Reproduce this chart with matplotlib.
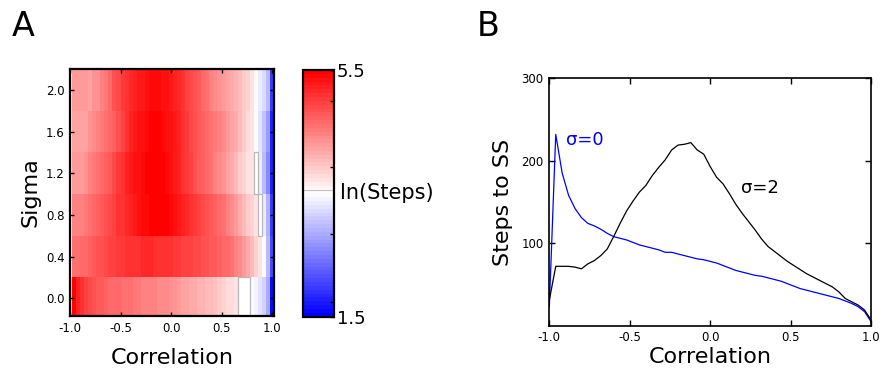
import numpy as np
import matplotlib
matplotlib.use("Agg")
import matplotlib.pyplot as plt
from matplotlib.patches import Rectangle

plt.rcParams['font.family'] = ['DejaVu Sans']

# ---------------- data ----------------
correlation = [-1.00, -0.96, -0.92, -0.88, -0.84, -0.80, -0.76, -0.72, -0.68, -0.64,
               -0.60, -0.56, -0.52, -0.48, -0.44, -0.40, -0.36, -0.32, -0.28, -0.24,
               -0.20, -0.16, -0.12, -0.08, -0.04, 0.00, 0.04, 0.08, 0.12, 0.16,
               0.20, 0.24, 0.28, 0.32, 0.36, 0.40, 0.44, 0.48, 0.52, 0.56,
               0.60, 0.64, 0.68, 0.72, 0.76, 0.80, 0.84, 0.88, 0.92, 0.96, 1.00]
sigma = [0.0, 0.4, 0.8, 1.2, 1.6, 2.0]

steps_sigma0 = [23, 232, 185, 158, 142, 131, 124, 121, 117, 112,
                108, 106, 104, 101, 98, 96, 94, 92, 89, 89,
                87, 85, 83, 81, 80, 78, 76, 73, 70, 67,
                65, 63, 61, 60, 58, 56, 54, 51, 48, 45,
                43, 41, 39, 37, 35, 33, 30, 27, 23, 17, 5]
steps_sigma04 = [33, 100, 102, 105, 108, 112, 118, 124, 130, 136,
                 142, 148, 152, 156, 160, 163, 166, 168, 170, 170,
                 170, 168, 166, 164, 162, 158, 155, 152, 148, 145,
                 141, 137, 133, 129, 125, 121, 117, 113, 108, 103,
                 97, 90, 82, 74, 65, 56, 47, 41, 32, 20, 8]
steps_sigma08 = [30, 85, 85, 88, 92, 98, 105, 112, 120, 128,
                 138, 148, 158, 168, 178, 190, 200, 210, 220, 228,
                 235, 240, 240, 238, 232, 225, 215, 200, 188, 176,
                 165, 155, 146, 137, 128, 120, 112, 104, 96, 88,
                 80, 72, 64, 57, 51, 46, 42, 37, 29, 18, 7]
steps_sigma12 = [28, 72, 72, 74, 78, 85, 92, 98, 105, 112,
                 122, 135, 150, 165, 180, 192, 205, 215, 225, 232,
                 238, 240, 238, 232, 222, 210, 196, 182, 168, 155,
                 142, 130, 120, 111, 103, 96, 89, 82, 76, 70,
                 63, 57, 51, 46, 42, 40, 35, 28, 20, 13, 6]
steps_sigma16 = [30, 66, 66, 68, 70, 75, 80, 88, 95, 100,
                 108, 115, 125, 140, 160, 180, 195, 205, 215, 225,
                 232, 235, 232, 225, 215, 205, 192, 180, 165, 150,
                 138, 128, 118, 110, 104, 98, 92, 86, 80, 74,
                 68, 62, 56, 50, 44, 40, 32, 27, 21, 15, 6]
steps_sigma2 = [31, 72, 72, 72, 71, 69, 75, 79, 85, 93,
                108, 124, 139, 151, 162, 170, 182, 192, 201, 213,
                219, 220, 222, 213, 208, 193, 180, 172, 160, 147,
                136, 126, 116, 105, 96, 90, 84, 78, 73, 68,
                63, 59, 55, 51, 47, 41, 33, 29, 25, 19, 7]

cbar_ticks = [1.5, 5.5]
cbar_minor = [1.74, 2.84, 3.92, 5.0]
white_band = (3.52, 3.68)   # ln(Steps) band rendered as outlined white cells

# ---------------- figure ----------------
fig = plt.figure(figsize=(8.84, 3.77), dpi=100)

corr = np.array(correlation)
sig = np.array(sigma)
grid = np.log(np.array([steps_sigma0, steps_sigma04, steps_sigma08,
                        steps_sigma12, steps_sigma16, steps_sigma2], dtype=float))

def edges(c):
    d = np.diff(c)
    return np.concatenate([[c[0] - d[0] / 2], c[:-1] + d / 2, [c[-1] + d[-1] / 2]])

xe, ye = edges(corr), edges(sig)

# Panel A
axA = fig.add_axes([0.0792, 0.1618, 0.2308, 0.6552])
cmap = plt.get_cmap('bwr', 64)
mesh = axA.pcolormesh(xe, ye, grid, cmap=cmap, vmin=1.5, vmax=5.5, shading='flat')
inband = (grid >= white_band[0]) & (grid < white_band[1])
for r in range(inband.shape[0]):
    c = 0
    while c < inband.shape[1]:
        if inband[r, c]:
            c0 = c
            while c < inband.shape[1] and inband[r, c]:
                c += 1
            axA.add_patch(Rectangle((xe[c0], ye[r]), xe[c] - xe[c0], ye[r + 1] - ye[r],
                                    facecolor='white', edgecolor='0.72', lw=0.9, zorder=2))
        else:
            c += 1
axA.set_xlim(-1.0, 1.02)
axA.set_ylim(-0.17, 2.2)
axA.set_xticks([-1.0, -0.5, 0.0, 0.5, 1.0])
axA.set_xticklabels(['-1.0', '-0.5', '0.0', '0.5', '1.0'])
axA.set_yticks(sigma)
axA.set_yticklabels(['%.1f' % s for s in sigma])
axA.set_xlabel('Correlation', fontsize=16, labelpad=10)
axA.set_ylabel('Sigma', fontsize=16, labelpad=4)
axA.tick_params(direction='in', top=True, right=True, labelsize=8.5, length=3, width=1, pad=4)
for s in axA.spines.values():
    s.set_linewidth(1.6)
    s.set_zorder(3)

# Colorbar
cax = fig.add_axes([0.3424, 0.16, 0.0354, 0.6544])
cb = fig.colorbar(mesh, cax=cax)
cb.set_ticks(cbar_ticks)
cb.set_ticklabels(['1.5', '5.5'])
cax.yaxis.set_minor_locator(matplotlib.ticker.FixedLocator(cbar_minor))
cax.tick_params(which='both', direction='in', labelsize=13, length=3, width=1, pad=2)
cb.outline.set_linewidth(1.6)
cax.axhline(3.55, color='0.75', lw=0.8)
cax.text(1.19, 0.5, 'ln(Steps)', transform=cax.transAxes, va='center', ha='left', fontsize=15)

# Panel B
axB = fig.add_axes([0.6214, 0.1361, 0.3639, 0.6562])
axB.plot(corr, steps_sigma0, color='blue', lw=0.9)
axB.plot(corr, steps_sigma2, color='black', lw=0.9)
axB.set_xlim(-1.0, 1.0)
axB.set_ylim(0, 300)
axB.set_xticks([-1.0, -0.5, 0.0, 0.5, 1.0])
axB.set_xticklabels(['-1.0', '-0.5', '0.0', '0.5', '1.0'])
axB.set_yticks([100, 200, 300])
axB.set_xlabel('Correlation', fontsize=16, labelpad=2)
axB.set_ylabel('Steps to SS', fontsize=16, labelpad=6)
axB.tick_params(direction='in', top=True, right=True, labelsize=8.5, length=4, width=1, pad=4)
for s in axB.spines.values():
    s.set_linewidth(1.2)
axB.text(-0.896, 225, 'σ=0', color='blue', fontsize=13, va='center', ha='left')
axB.text(0.192, 167, 'σ=2', color='black', fontsize=13, va='center', ha='left')

fig.text(12 / 884, 1 - 36 / 377, 'A', fontsize=24, ha='left', va='baseline')
fig.text(477 / 884, 1 - 36 / 377, 'B', fontsize=24, ha='left', va='baseline')

fig.savefig('out.png', dpi=100)
